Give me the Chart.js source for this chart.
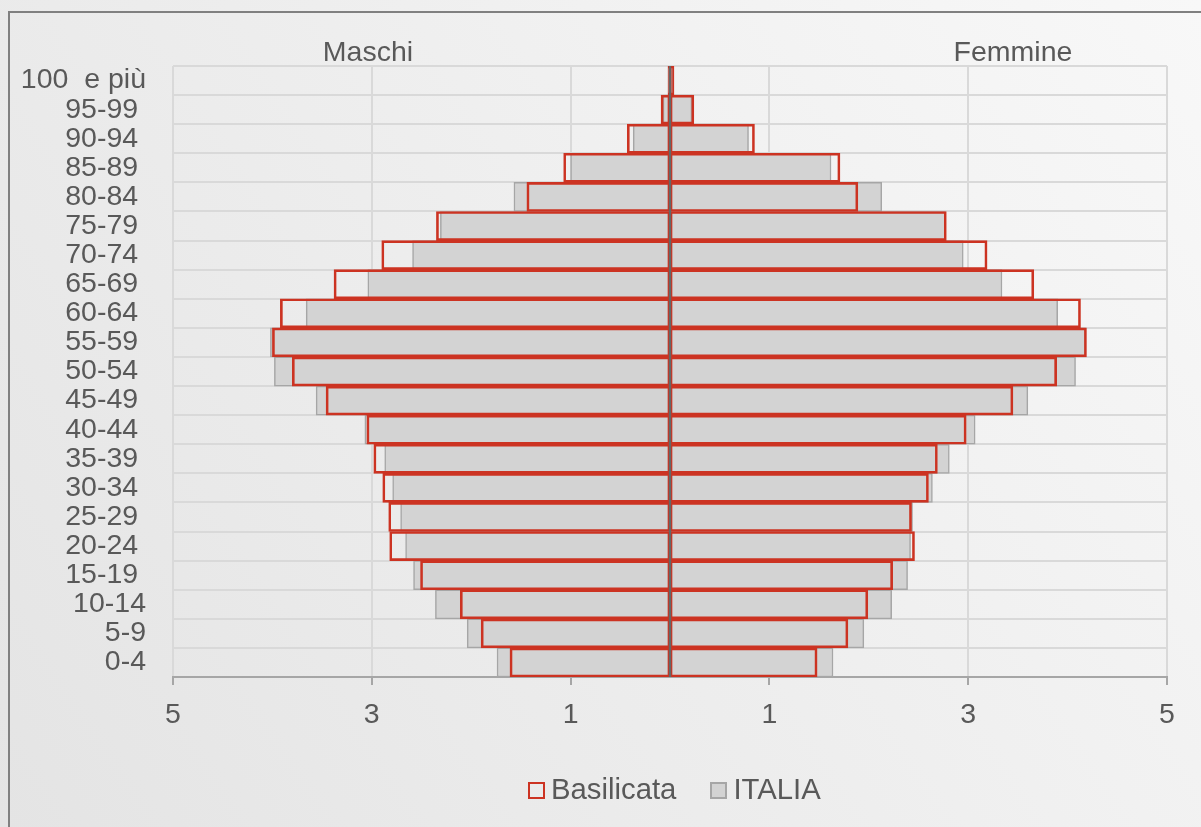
<!DOCTYPE html>
<html lang="it">
<head>
<meta charset="utf-8">
<title>Piramide delle età - Basilicata / ITALIA</title>
<script src="https://cdn.jsdelivr.net/npm/chart.js@4.4.1/dist/chart.umd.min.js"></script>
<style>
  html, body { margin: 0; padding: 0; }
  body { width: 1201px; height: 827px; overflow: hidden; position: relative;
         font-family: "Liberation Sans", Arial, sans-serif; }
  #wrap { position: absolute; left: 0; top: 0; width: 1201px; height: 827px; }
  #legend { position: absolute; left: 528px; top: 773px; height: 30px;
            display: flex; align-items: flex-end; white-space: nowrap;
            font-size: 29.3px; line-height: 28px; color: #595959; }
  #legend .item { display: flex; align-items: flex-end; margin-right: 34px; }
  #legend .box { width: 13px; height: 13px; margin-right: 6px; margin-bottom: 4px; }
</style>
</head>
<body>
<div id="wrap"><canvas id="pyramid" width="1201" height="827"></canvas></div>
<div id="legend"></div>
<script>
/* ---------- data (percent of population), top row first ---------- */
const AGE_GROUPS = [
  "100  e più", "95-99 ", "90-94 ", "85-89 ", "80-84 ", "75-79 ", "70-74 ",
  "65-69 ", "60-64 ", "55-59 ", "50-54 ", "45-49 ", "40-44 ", "35-39 ",
  "30-34 ", "25-29 ", "20-24 ", "15-19 ", "10-14", "5-9", "0-4"
];

const basilicataMaschi = [
  0.02, 0.09, 0.43, 1.07, 1.44, 2.35, 2.90, 3.38, 3.92, 4.00, 3.80,
  3.46, 3.05, 2.98, 2.89, 2.83, 2.82, 2.51, 2.11, 1.90, 1.61
];
const basilicataFemmine = [
  0.04, 0.24, 0.85, 1.71, 1.89, 2.78, 3.19, 3.66, 4.13, 4.19, 3.89,
  3.45, 2.98, 2.69, 2.60, 2.43, 2.46, 2.24, 1.99, 1.79, 1.48
];
const italiaMaschi = [
  0.02, 0.07, 0.37, 1.00, 1.57, 2.31, 2.59, 3.04, 3.66, 4.02, 3.98,
  3.56, 3.07, 2.87, 2.79, 2.71, 2.66, 2.58, 2.36, 2.04, 1.74
];
const italiaFemmine = [
  0.03, 0.22, 0.79, 1.62, 2.13, 2.77, 2.95, 3.34, 3.90, 4.18, 4.08,
  3.60, 3.07, 2.81, 2.64, 2.44, 2.42, 2.39, 2.23, 1.95, 1.64
];

const X_MIN = -5, X_MAX = 5, X_STEP = 2;

/* ---------- styles ---------- */
const TEXT = "#595959";
const GRID = "#d9d9d9";
const AXIS = "#a6a6a6";
const RED = "#cc3322";
const GREY_FILL = "#d3d3d3";
const GREY_LINE = "#a6a6a6";
const FONT = { family: "'Liberation Sans', Arial, sans-serif", size: 28.5 };

const neg = arr => arr.map(v => -v);

/* background gradient + frame */
const backdrop = {
  id: "backdrop",
  beforeDraw(chart) {
    const { ctx, width, height } = chart;
    const g = ctx.createLinearGradient(0, height, width, 0);
    g.addColorStop(0, "#e4e4e4");
    g.addColorStop(1, "#f8f8f8");
    ctx.save();
    ctx.fillStyle = g;
    ctx.fillRect(0, 0, width, height);
    ctx.strokeStyle = "#808080";
    ctx.lineWidth = 2;
    ctx.beginPath();
    ctx.moveTo(9, height);
    ctx.lineTo(9, 12);
    ctx.lineTo(width, 12);
    ctx.stroke();
    ctx.restore();
  }
};

/* zero line and side titles */
const overlay = {
  id: "overlay",
  afterDatasetsDraw(chart) {
    const { ctx, chartArea, scales } = chart;
    const x0 = Math.round(scales.x.getPixelForValue(0));
    ctx.save();
    ctx.strokeStyle = "#666666";
    ctx.lineWidth = 2.3;
    ctx.beginPath();
    ctx.moveTo(x0, chartArea.top);
    ctx.lineTo(x0, chartArea.bottom);
    ctx.stroke();

    ctx.fillStyle = TEXT;
    ctx.font = `${FONT.size}px ${FONT.family}`;
    ctx.textAlign = "center";
    ctx.textBaseline = "alphabetic";
    ctx.fillText("Maschi", chartArea.left + 195, 61);
    ctx.fillText("Femmine", chartArea.right - 154, 61);
    ctx.restore();
  }
};

const barCommon = {
  grouped: false,
  barPercentage: 1,
  categoryPercentage: 1,
  borderSkipped: false
};

const chart = new Chart(document.getElementById("pyramid"), {
  type: "bar",
  data: {
    labels: AGE_GROUPS,
    datasets: [
      { label: "Basilicata", data: neg(basilicataMaschi), backgroundColor: "rgba(0,0,0,0)",
        borderColor: RED, borderWidth: 2, ...barCommon },
      { label: "Basilicata", data: basilicataFemmine, backgroundColor: "rgba(0,0,0,0)",
        borderColor: RED, borderWidth: 2, ...barCommon },
      { label: "ITALIA", data: neg(italiaMaschi), backgroundColor: GREY_FILL,
        borderColor: GREY_LINE, borderWidth: 1.5, ...barCommon },
      { label: "ITALIA", data: italiaFemmine, backgroundColor: GREY_FILL,
        borderColor: GREY_LINE, borderWidth: 1.5, ...barCommon }
    ]
  },
  options: {
    indexAxis: "y",
    responsive: false,
    animation: false,
    layout: { padding: { top: 66, right: 34, left: 0, bottom: 0 } },
    plugins: {
      legend: { display: false },
      tooltip: { enabled: false }
    },
    scales: {
      x: {
        type: "linear",
        min: X_MIN,
        max: X_MAX,
        afterFit: s => { s.height = 150; },
        ticks: {
          stepSize: X_STEP,
          color: TEXT,
          font: FONT,
          padding: 13,
          callback: v => Math.abs(v)
        },
        grid: { color: GRID, lineWidth: 2, tickColor: AXIS, tickLength: 8 },
        border: { color: AXIS, width: 2 }
      },
      y: {
        afterFit: s => { s.width = 173; },
        ticks: { color: TEXT, font: FONT, padding: 27, autoSkip: false },
        grid: { color: GRID, lineWidth: 2, drawTicks: false },
        border: { display: false }
      }
    }
  },
  plugins: [backdrop, overlay]
});

/* html legend, one entry per region */
const legendEl = document.getElementById("legend");
const seen = new Set();
chart.data.datasets.forEach(ds => {
  if (seen.has(ds.label)) return;
  seen.add(ds.label);
  const item = document.createElement("span");
  item.className = "item";
  const box = document.createElement("span");
  box.className = "box";
  box.style.background = ds.backgroundColor;
  box.style.border = `2px solid ${ds.borderColor}`;
  item.appendChild(box);
  item.appendChild(document.createTextNode(ds.label));
  legendEl.appendChild(item);
});
</script>
</body>
</html>
